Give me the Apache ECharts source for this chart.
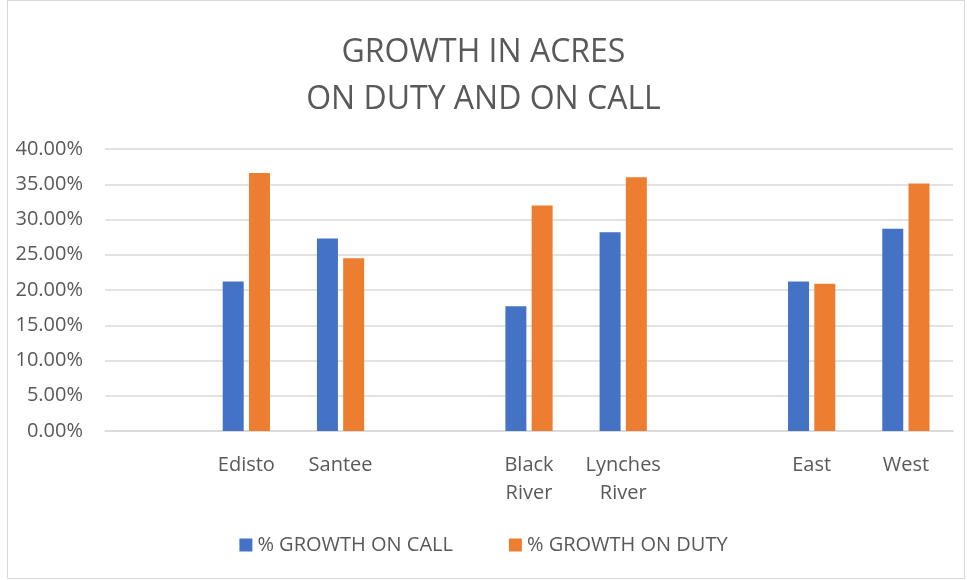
<!DOCTYPE html>
<html>
<head>
<meta charset="utf-8">
<script src="https://cdn.jsdelivr.net/npm/echarts@6/dist/echarts.min.js"></script>
<style>
  html, body { margin: 0; padding: 0; background: #fff; }
  #chart { width: 967px; height: 580px; }
</style>
</head>
<body>
<div id="chart"></div>
<script>
// regions, with empty slots used as spacers between the groups
const categories = ['', 'Edisto', 'Santee', '', 'Black\nRiver', 'Lynches\nRiver', '', 'East', 'West'];
const onCall = [null, 21.2, 27.3, null, 17.7, 28.2, null, 21.2, 28.7];
const onDuty = [null, 36.6, 24.5, null, 32.0, 36.0, null, 20.9, 35.1];
const yTicks = [0, 5, 10, 15, 20, 25, 30, 35, 40];

const font = 'Open Sans, Noto Sans, sans-serif';
const textColor = '#595959';

const chart = echarts.init(document.getElementById('chart'), null, { renderer: 'canvas' });

chart.setOption({
  backgroundColor: '#fff',
  animation: false,
  title: {
    text: 'GROWTH IN ACRES\nON DUTY AND ON CALL',
    left: 'center',
    top: 24,
    textStyle: {
      fontFamily: font,
      fontSize: 32,
      fontWeight: 'normal',
      color: textColor,
      lineHeight: 47
    }
  },
  graphic: [{
    type: 'rect',
    shape: { x: 7.5, y: 0.5, width: 957, height: 578 },
    style: { fill: 'none', stroke: '#d9d9d9', lineWidth: 1 },
    silent: true
  }],
  legend: {
    bottom: 20,
    left: 'center',
    itemWidth: 13,
    itemHeight: 13,
    itemGap: 56,
    icon: 'rect',
    textStyle: { fontFamily: font, fontSize: 20, color: textColor }
  },
  grid: { left: 105, right: 14, top: 149, bottom: 149 },
  xAxis: {
    type: 'category',
    data: categories,
    axisTick: { show: false },
    axisLine: { lineStyle: { color: '#d9d9d9', width: 1.5 } },
    axisLabel: {
      interval: 0,
      margin: 20,
      fontFamily: font,
      fontSize: 20,
      color: textColor,
      lineHeight: 28
    }
  },
  yAxis: {
    type: 'value',
    min: yTicks[0],
    max: yTicks[yTicks.length - 1],
    interval: 5,
    axisLine: { show: false },
    axisTick: { show: false },
    splitLine: { lineStyle: { color: '#d9d9d9', width: 1.5 } },
    axisLabel: {
      margin: 22,
      fontFamily: font,
      fontSize: 20,
      color: textColor,
      formatter: v => v.toFixed(2) + '%'
    }
  },
  series: [
    {
      name: '% GROWTH ON CALL',
      type: 'bar',
      data: onCall,
      barWidth: 21,
      barGap: '25%',
      itemStyle: { color: '#4472c4' }
    },
    {
      name: '% GROWTH ON DUTY',
      type: 'bar',
      data: onDuty,
      barWidth: 21,
      barGap: '25%',
      itemStyle: { color: '#ed7d31' }
    }
  ]
});
</script>
</body>
</html>
